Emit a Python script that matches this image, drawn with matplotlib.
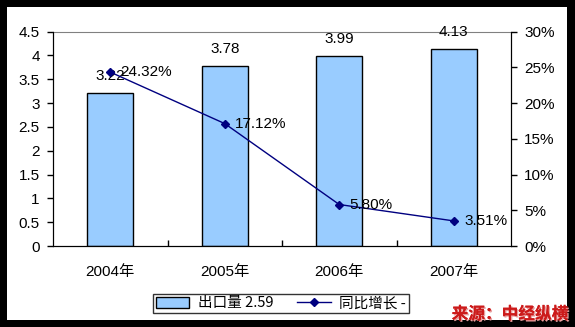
import numpy as np
import matplotlib
matplotlib.use('Agg')
import matplotlib.pyplot as plt
from matplotlib.patches import Rectangle
from matplotlib.lines import Line2D
import matplotlib.patheffects as pe

plt.rcParams['font.family'] = ['Liberation Sans', 'Noto Sans CJK SC']

years = ['2004年', '2005年', '2006年', '2007年']
export_vol = [3.22, 3.78, 3.99, 4.13]
growth = [24.32, 17.12, 5.80, 3.51]
left_ticks = [0, 0.5, 1, 1.5, 2, 2.5, 3, 3.5, 4, 4.5]
right_ticks = [0, 5, 10, 15, 20, 25, 30]

W, H = 575, 327
FS = 11
fig = plt.figure(figsize=(W / 100, H / 100), dpi=100, facecolor='black')

# white chart area inside the black frame
fig.patches.append(Rectangle((7 / W, 1 - 320 / H), 560 / W, 313 / H,
                             transform=fig.transFigure, facecolor='white',
                             edgecolor='none', zorder=-10))

ax = fig.add_axes([53 / W, 1 - 246 / H, 458 / W, 214.5 / H])
ax.set_facecolor('white')
x = np.arange(len(years))

ax.bar(x, export_vol, width=0.4, color='#99CCFF', edgecolor='black', linewidth=1, zorder=2)
for xi, v in zip(x, export_vol):
    ax.annotate(f'{v:.2f}', (xi, v), xytext=(0, 12), textcoords='offset points',
                ha='center', va='center', fontsize=FS)

ax.set_xlim(-0.5, 3.5)
ax.set_ylim(0, 4.5)
ax.set_yticks(left_ticks)
ax.set_yticklabels([f'{t:g}' for t in left_ticks], fontsize=FS)
ax.set_xticks(x)
ax.set_xticklabels(years, fontsize=FS)
ax.set_xticks([0.5, 1.5, 2.5], minor=True)
ax.tick_params(axis='x', which='major', length=0, pad=14)
ax.tick_params(axis='x', which='minor', direction='in', length=4, width=1)
ax.tick_params(axis='y', direction='out', length=4, width=1, pad=5.5)
ax.spines['top'].set_color('#808080')
for s in ['left', 'bottom', 'right']:
    ax.spines[s].set_color('black')

ax2 = ax.twinx()
ax2.plot(x, growth, color='#000080', linewidth=1, marker='D', markersize=4.5, zorder=3)
for xi, g in zip(x, growth):
    ax2.annotate(f'{g:.2f}%', (xi, g), xytext=(7.5, 0), textcoords='offset points',
                 ha='left', va='center', fontsize=FS)
ax2.set_ylim(0, 30)
ax2.set_yticks(right_ticks)
ax2.set_yticklabels([f'{t}%' for t in right_ticks], fontsize=FS)
ax2.tick_params(axis='y', direction='out', length=4, width=1, pad=5.5)
ax2.spines['top'].set_visible(False)

handles = [Rectangle((0, 0), 1, 1, facecolor='#99CCFF', edgecolor='black', linewidth=1),
           Line2D([], [], color='#000080', marker='D', markersize=4.5, linewidth=1)]
leg = fig.legend(handles, ['出口量 2.59', '同比增长 -'], ncol=2,
                 loc='center', bbox_to_anchor=(281 / W, 1 - 303.5 / H),
                 frameon=True, fancybox=False, edgecolor='black',
                 prop={'family': ['Noto Sans CJK SC'], 'size': 10.5},
                 handlelength=2.3, columnspacing=1.6, borderpad=0.2, handletextpad=0.6)
leg.get_frame().set_linewidth(1)

fig.text(568 / W, 1 - 314 / H, '来源：中经纵横', ha='right', va='center',
         fontsize=12, fontweight='bold', color='#cc1a1a',
         family=['Noto Sans CJK SC'],
         path_effects=[pe.withSimplePatchShadow(offset=(1, -1), shadow_rgbFace='#e8a0a0', alpha=1), pe.Normal()])

fig.savefig('out.png', dpi=100, facecolor='black')
